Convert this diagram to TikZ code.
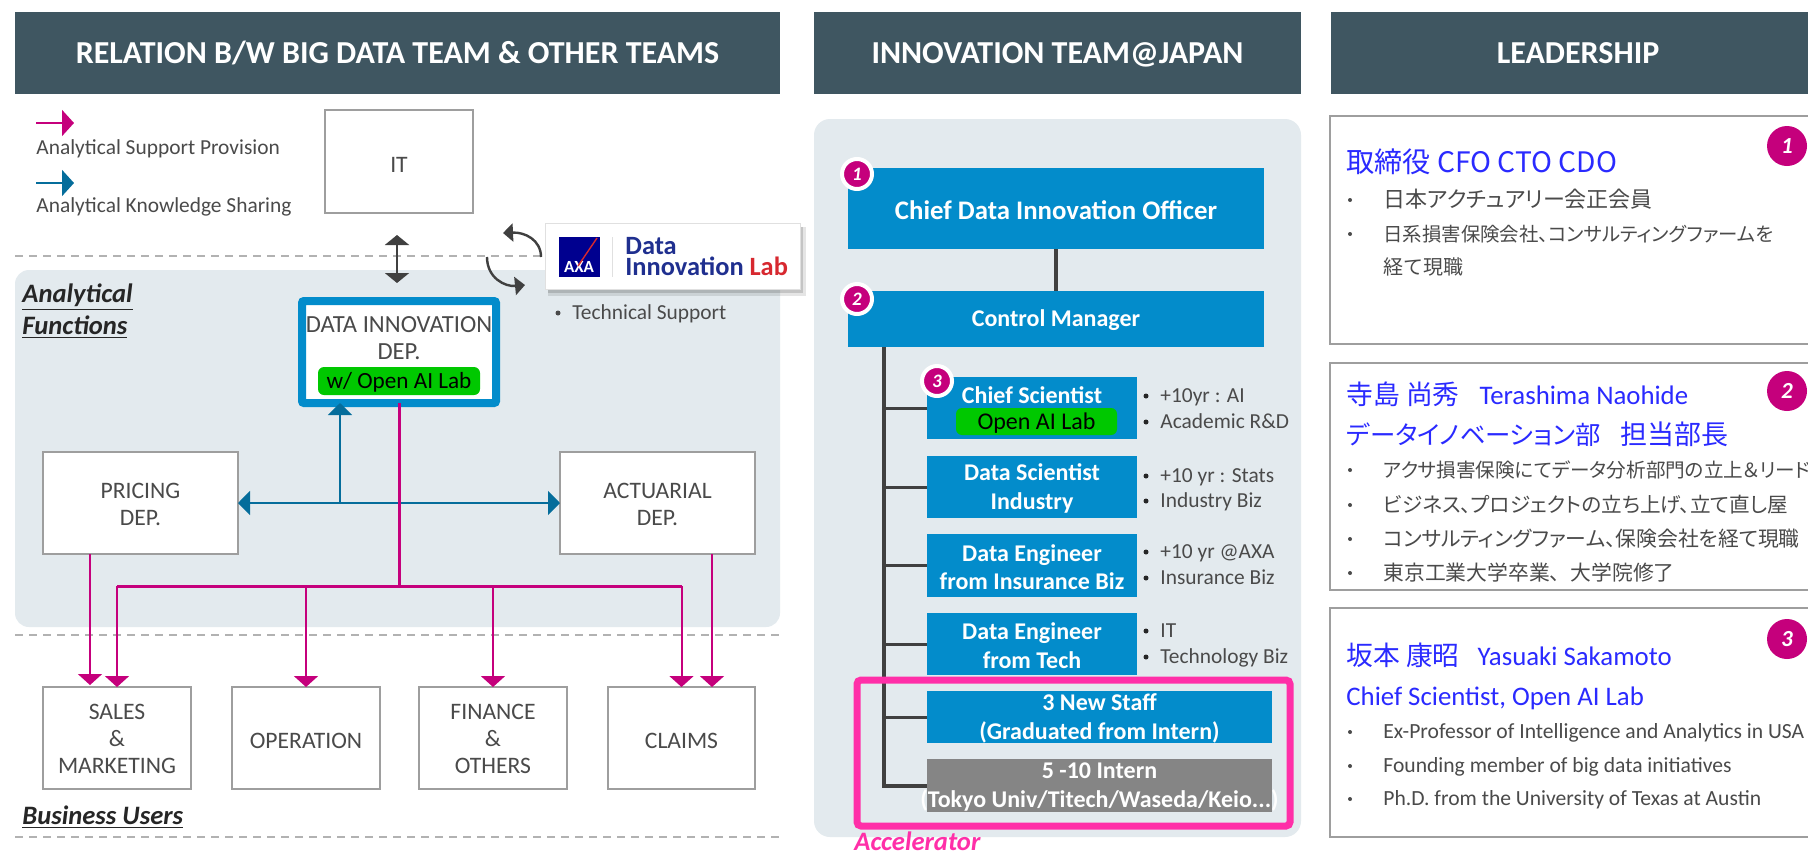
\documentclass[tikz,border=0pt]{standalone}
\usepackage{fontspec}
\setmainfont{Carlito}
\newfontfamily\cjk{Noto Sans CJK JP}
\newfontfamily\cjkp[RawFeature=+palt]{Noto Sans CJK JP}
\usetikzlibrary{arrows.meta,calc}
\definecolor{hdr}{HTML}{3F5661}
\definecolor{panel}{HTML}{E3EAEE}
\definecolor{bluebox}{HTML}{038CCB}
\definecolor{pinkline}{HTML}{C5007C}
\definecolor{tealline}{HTML}{056D9B}
\definecolor{frame}{HTML}{FF2FA8}
\definecolor{okgreen}{HTML}{00C800}
\definecolor{txtgray}{HTML}{4A4A4A}
\definecolor{titleblue}{HTML}{2A2AFF}
\definecolor{axablue}{HTML}{00008F}
\definecolor{labblue}{HTML}{1F2F8F}
\definecolor{labred}{HTML}{D7282F}
\definecolor{darkline}{HTML}{404040}
\newcommand{\rbs}{-.8pt}
\newcommand{\jf}[1]{\fontsize{#1}{12}\selectfont}
\newcommand{\rb}[7]{%
  \pgfmathsetmacro\rbw{(#5-#3)/2}\pgfmathsetmacro\rbh{(#6-#4)/2}%
  \node[#1,minimum width=\rbw pt,minimum height=\rbh pt,inner sep=0pt,outer sep=0pt] (#2) at ({(#3+#5)/2},{(#4+#6)/2}) {};
  \node[#1,draw=none,fill=none,inner sep=0pt,outer sep=0pt] (#2t) at ([yshift=\rbs]#2.center) {#7};}
\tikzset{
  header/.style={fill=hdr,text=white,text height=10.3pt,text depth=3pt,font=\fontsize{16}{18}\selectfont\bfseries},
  graybox/.style={draw=black!38,line width=1pt,fill=white,text=txtgray,align=center,font=\fontsize{11.8}{13.5}\selectfont},
  bluerole/.style={fill=bluebox,text=white,align=center,font=\fontsize{12}{14.3}\selectfont\bfseries},
  greenlab/.style={fill=okgreen,rounded corners=3pt,text=black,font=\fontsize{12}{14}\selectfont},
  tl/.style={anchor=west,inner sep=0pt,text height=1.5ex,text depth=.3ex},
  note/.style={tl,yshift=-.6pt,text=txtgray,font=\fontsize{10.7}{12}\selectfont},
  sect/.style={tl,yshift=-1.7pt,text=black!85,font=\fontsize{13.3}{15}\selectfont\bfseries\itshape},
  pinkarrow/.style={draw=pinkline,line width=1pt,-{Triangle[length=5.5pt,width=12pt]}},
  tealarrow/.style={draw=tealline,line width=1pt,-{Triangle[length=6pt,width=12pt]}},
  darkarrow/.style={draw=darkline,line width=1.2pt,-{Triangle[length=5pt,width=9pt]}},
  branch/.style={draw=darkline,line width=1.5pt},
  dashline/.style={draw=black!30,line width=.6pt,dash pattern=on 4pt off 3pt},
  badge/.style={circle,fill=pinkline,text=white,inner sep=0pt,minimum size=15pt,draw=white,line width=2pt,font=\fontsize{9.5}{10}\selectfont\bfseries\itshape},
  bigbadge/.style={circle,fill=pinkline,text=white,inner sep=0pt,minimum size=20pt,font=\fontsize{11.5}{12}\selectfont\bfseries\itshape},
  leadbox/.style={draw=black!38,line width=.8pt,fill=white},
  ttl/.style={tl,yshift=-1.7pt,text=titleblue,font=\fontsize{13.4}{15}\selectfont},
  jp/.style={tl,yshift=-1pt,text=txtgray,font=\fontsize{10.5}{12}\selectfont\cjkp},
  en/.style={tl,yshift=-.6pt,text=txtgray,font=\fontsize{10.8}{12}\selectfont},
  dot/.style={circle,fill=txtgray,inner sep=0pt,minimum size=2.5pt},
}
\begin{document}
\begin{tikzpicture}[x=0.5pt,y=-0.5pt]
\clip (0,0) rectangle (1808,852);
\fill[white] (0,0) rectangle (1808,852);
% headers
\renewcommand{\rbs}{-1.5pt}
\rb{header}{h1}{15}{12}{780}{94}{RELATION B/W BIG DATA TEAM \& OTHER TEAMS}
\rb{header}{h2}{814}{12}{1301}{94}{INNOVATION TEAM@JAPAN}
\rb{header}{h3}{1331}{12}{1825}{94}{LEADERSHIP}
\renewcommand{\rbs}{-.8pt}
% left panel
\rb{fill=panel,rounded corners=7pt}{anpanel}{15}{270}{780}{627}{}
\coordinate (dl1) at (15,256); \coordinate (dl1e) at (541,256);
\coordinate (dl2) at (15,635); \coordinate (dl2e) at (780,635);
\coordinate (dl3) at (15,837); \coordinate (dl3e) at (780,837);
\draw[dashline] (dl1) -- (dl1e);
\draw[dashline,line width=1pt] (dl2) -- (dl2e);
\draw[dashline] (dl3) -- (dl3e);
% legend
\coordinate (lg1a) at (36,123); \coordinate (lg1b) at (74,123);
\coordinate (lg2a) at (36,183); \coordinate (lg2b) at (74,183);
\draw[draw=pinkline,line width=1pt,-{Triangle[length=6pt,width=13pt]}] (lg1a) -- (lg1b);
\draw[draw=tealline,line width=1pt,-{Triangle[length=6pt,width=13pt]}] (lg2a) -- (lg2b);
\node[note] (lgt1) at (36,148) {Analytical Support Provision};
\node[note] (lgt2) at (36,206) {Analytical Knowledge Sharing};
% boxes
\renewcommand{\rbs}{-1.7pt}
\rb{graybox}{it}{325}{110}{473}{213}{IT}
\rb{graybox}{oper}{232}{687}{380}{789}{OPERATION}
\rb{graybox}{claims}{608}{687}{755}{789}{CLAIMS}
\renewcommand{\rbs}{-.6pt}
\rb{graybox}{pricing}{43}{452}{238}{554}{PRICING\\DEP.}
\rb{graybox}{actuarial}{560}{452}{755}{554}{ACTUARIAL\\DEP.}
\rb{graybox}{sales}{43}{687}{191}{789}{SALES\\\&\\MARKETING}
\rb{graybox}{fin}{419}{687}{567}{789}{FINANCE\\\&\\OTHERS}
\rb{draw=bluebox,line width=4pt,fill=white,rounded corners=1pt}{dinno}{302}{301}{496}{403}{}
\node[text=txtgray,font=\fontsize{12.3}{13}\selectfont,inner sep=0pt] (ditxt1) at (399,325) {DATA INNOVATION};
\node[text=txtgray,font=\fontsize{12.3}{13}\selectfont,inner sep=0pt] (ditxt2) at (399,352) {DEP.};
\rb{greenlab,font=\fontsize{11.6}{14}\selectfont}{digreen}{318}{367}{480}{395}{w/ Open AI Lab}
\node[sect] (sa1) at (22,293) {\underline{Analytical}};
\node[sect] (sa2) at (22,325) {\underline{Functions}};
\node[sect] (sb) at (22,815) {\underline{Business Users}};
% lab
\fill[black,opacity=.10] (548,227) rectangle (806,296);
\fill[black,opacity=.14] (548,227) rectangle (803,293);
\rb{fill=white,draw=black!12,line width=.5pt}{lab}{545}{223}{800}{289}{}
\rb{fill=axablue}{axa}{559}{237}{600}{277}{}
\node[text=white,font=\fontsize{8.5}{10}\selectfont\bfseries,inner sep=0pt] (axat) at (579,267) {AXA};
\draw[labred,line width=.7pt] (axa.north east) ++(-3,1) -- ++(-19,28);
\draw[black!12,line width=.5pt] (612,237) -- (612,277);
\node[tl,yshift=-1pt,text=labblue,font=\fontsize{13.2}{15}\selectfont\bfseries] (labt1) at (625,247) {Data};
\node[tl,yshift=-1pt,text=labblue,font=\fontsize{13.2}{15}\selectfont\bfseries] (labt2) at (625,268) {Innovation \textcolor{labred}{Lab}};
\node[dot] (tsd) at (558,313) {};
\node[note] (tst) at (572,313) {Technical Support};
% connectors left
\coordinate (xs) at (340,0); \coordinate (xp) at (90,0); \coordinate (xa) at (712,0); \coordinate (ym) at (0,586);
\draw[darkarrow,{Triangle[length=5pt,width=12pt]}-{Triangle[length=5pt,width=12pt]}] (397,235) coordinate (dba) -- (397,283) coordinate (dbb);
\draw[darkarrow] (541,257) coordinate (cu) .. controls +(0,-17) and +(22,-1) .. (503,233) coordinate (ca);
\draw[darkarrow] (487,257) coordinate (cb) .. controls +(0,21) and +(-20,2) .. (525,285) coordinate (cc);
\draw[tealarrow,{Triangle[length=6pt,width=12pt]}-{Triangle[length=6pt,width=12pt]}] (pricing.east |- 0,503) -- (actuarial.west |- 0,503);
\draw[tealarrow] (xs |- 0,503) -- (xs |- dinno.south);
\draw[draw=pinkline,line width=1.5pt] (dinno.south) -- (dinno.south |- ym);
\draw[draw=pinkline,line width=1.5pt] (sales.north |- ym) -- (claims.north |- ym);
\draw[pinkarrow] (sales.north |- ym) -- (sales.north);
\draw[pinkarrow] (oper.north |- ym) -- (oper.north);
\draw[pinkarrow] (fin.north |- ym) -- (fin.north);
\draw[pinkarrow] (claims.north |- ym) -- (claims.north);
\draw[pinkarrow] (xp |- pricing.south) -- ([yshift=1pt]xp |- sales.north);
\draw[pinkarrow] (xa |- actuarial.south) -- (xa |- claims.north);
% middle
\rb{fill=panel,rounded corners=8pt}{mpanel}{814}{119}{1301}{837}{}
\renewcommand{\rbs}{-.8pt}
\rb{bluerole,font=\fontsize{13.4}{15}\selectfont\bfseries}{cdio}{848}{168}{1264}{249}{Chief Data Innovation Officer}
\rb{bluerole}{cm}{848}{291}{1264}{347}{Control Manager}
\rb{bluerole}{cs}{927}{377}{1137}{439}{}
\node[text=white,font=\fontsize{12}{14}\selectfont\bfseries,inner sep=0pt] (cst) at (1032,395) {Chief Scientist};
\rb{greenlab}{csgreen}{956}{408}{1117}{435}{Open AI Lab}
\rb{bluerole}{ds}{927}{456}{1137}{518}{Data Scientist\\Industry}
\rb{bluerole}{dei}{927}{534}{1137}{597}{Data Engineer\\from Insurance Biz}
\rb{bluerole}{det}{927}{613}{1137}{675}{Data Engineer\\from Tech}
\rb{bluerole}{ns}{927}{691}{1272}{743}{3 New Staff\\(Graduated from Intern)}
\coordinate (xt) at (884,0);
\rb{bluerole,fill=black!48}{intern}{927}{759}{1272}{812}{5 -10 Intern\\(Tokyo Univ/Titech/Waseda/Keio...)}
\draw[draw=darkline,line width=2pt] (cdio.south) -- (cm.north);
\draw[draw=darkline,line width=2pt] (xt |- cm.south) -- (xt |- intern.west) -- (intern.west);
\foreach \n in {cs,ds,dei,det,ns} \draw[branch] (xt |- \n.west) -- (\n.west);
\rb{draw=frame,line width=3.5pt,rounded corners=2pt}{accel}{857}{680}{1290}{826}{}
\node[tl,yshift=-1pt,text=frame,font=\fontsize{13.3}{15}\selectfont\bfseries\itshape] (acct) at (854,843) {Accelerator};
\node[badge] (b1) at (857,174) {1};
\node[badge] (b2) at (857,299) {2};
\node[badge] (b3) at (937,381) {3};
\foreach \y/\t/\n in {396/{+10yr : AI}/a,422/{Academic R\&D}/b,476/{+10 yr : Stats}/c,501/{Industry Biz}/d,552/{+10 yr @AXA}/e,578/{Insurance Biz}/f,631/{IT}/g,657/{Technology Biz}/h}{
  \node[dot,fill=black!85] (md\n) at (1146,\y) {};
  \node[note] (mt\n) at (1160,\y) {\t};
}
% leadership
\rb{leadbox}{l1}{1330}{116}{1815}{344}{}
\rb{leadbox}{l2}{1330}{363}{1815}{590}{}
\rb{leadbox}{l3}{1330}{608}{1815}{837}{}
\node[bigbadge] (r1) at (1787,146) {1};
\node[bigbadge] (r2) at (1787,391) {2};
\node[bigbadge] (r3) at (1787,639) {3};
\node[ttl,font=\fontsize{14.1}{16}\selectfont\cjk] (t1) at (1346,163) {取締役 CFO CTO CDO};
\node[ttl] (t2) at (1346,395) {{\cjk 寺島 尚秀}\hspace{10pt}Terashima Naohide};
\node[ttl,font=\fontsize{13.5}{15}\selectfont\cjkp] (t2b) at (1346,435) {{\fontsize{12.7}{15}\selectfont データイノベーション部}\hspace{10pt}担当部長};
\node[ttl] (t3) at (1346,656) {{\cjk 坂本 康昭}\hspace{9pt}Yasuaki Sakamoto};
\node[ttl] (t3b) at (1346,696) {Chief Scientist, Open AI Lab};
\foreach \y/\n in {200/a,234/b,470/c,505/d,539/e,573/f,732/g,766/h,799/i} \node[dot,minimum size=2pt] (rd\n) at (1350,\y) {};
\node[jp] (ja) at (1383,200) {\jf{11}日本アクチュアリー会正会員};
\node[jp] (jb) at (1383,234) {\jf{9.7}日系損害保険会社、コンサルティングファームを};
\node[jp] (jc) at (1383,267) {\cjk\jf{10}経て現職};
\node[jp] (jd) at (1383,470) {\jf{9.8}アクサ損害保険にてデータ分析部門の立上＆リード};
\node[jp] (je) at (1383,505) {\jf{10.3}ビジネス、プロジェクトの立ち上げ、立て直し屋};
\node[jp] (jf) at (1383,539) {\jf{10.4}コンサルティングファーム、保険会社を経て現職};
\node[jp] (jg) at (1383,573) {\cjk\jf{10.4}東京工業大学卒業、大学院修了};
\node[en] (ea) at (1383,732) {Ex-Professor of Intelligence and Analytics in USA};
\node[en] (eb) at (1383,766) {Founding member of big data initiatives};
\node[en] (ec) at (1383,799) {Ph.D. from the University of Texas at Austin};
\end{tikzpicture}
\end{document}
